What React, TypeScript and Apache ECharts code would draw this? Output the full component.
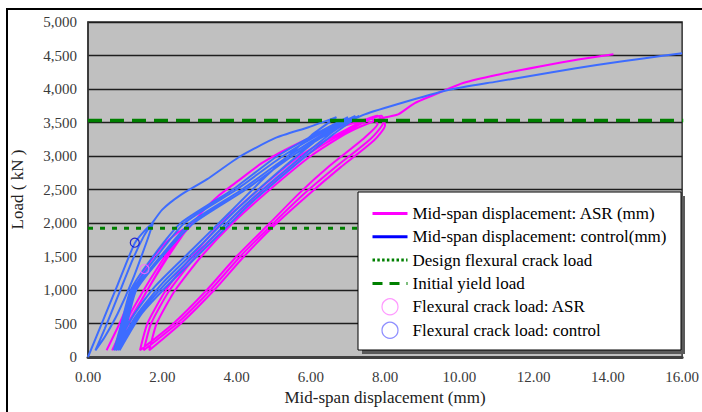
import React, { useEffect, useRef } from "react";
import * as echarts from "echarts";

// ---- data (mid-span displacement in mm, load in kN) ----
const designCrackLoad = 1920;
const initialYieldLoad = 3530;

const asrCurve: number[][] = [
  // first cycles to ~2000 kN
  [0.5, 100], [0.85, 500], [1.2, 950], [1.55, 1320], [2.0, 1650], [2.4, 1850], [2.73, 1950],
  [2.55, 1820], [2.1, 1450], [1.6, 1000], [1.1, 520], [0.65, 100],
  [0.95, 450], [1.45, 950], [1.95, 1400], [2.4, 1760], [2.7, 1940],
  [2.5, 1790], [2.05, 1420], [1.55, 950], [1.05, 480], [0.75, 100],
  [1.05, 450], [1.5, 900], [2.0, 1380], [2.45, 1760], [2.75, 1950],
  // envelope to ~3550 kN
  [3.1, 2180], [3.5, 2400], [4.07, 2640], [4.7, 2900], [5.67, 3190], [6.5, 3380], [7.2, 3500], [7.6, 3560],
  // cycles around yield
  [7.8, 3480], [7.4, 3250], [6.5, 2850], [5.7, 2450], [4.9, 2000], [4.0, 1500], [3.2, 1000], [2.3, 500], [1.4, 100],
  [1.6, 500], [2.1, 1000], [2.8, 1500], [3.6, 2000], [4.6, 2500], [5.7, 3000], [6.8, 3350], [7.8, 3600],
  [7.95, 3500], [7.6, 3250], [6.7, 2850], [5.85, 2450], [5.0, 2000], [4.1, 1500], [3.3, 1000], [2.4, 500], [1.5, 100],
  [1.7, 500], [2.2, 1000], [2.9, 1500], [3.75, 2000], [4.75, 2500], [5.85, 3000], [6.9, 3350], [7.9, 3600],
  [8.0, 3460], [7.7, 3230], [6.8, 2830], [5.95, 2430], [5.05, 1980], [4.2, 1500], [3.4, 1000], [2.5, 500], [1.65, 100],
  // final loading
  [1.85, 500], [2.35, 1000], [3.05, 1500], [3.9, 2000], [4.9, 2500], [6.0, 3000], [7.0, 3350], [7.95, 3570],
  [8.35, 3620], [8.8, 3790], [9.5, 3955], [10.1, 4090], [11.0, 4210], [12.2, 4340], [13.2, 4440], [14.15, 4520],
];

const controlCurve: number[][] = [
  // first cycle to ~2000 kN
  [0, 0], [0.4, 540], [0.8, 1080], [1.26, 1700], [1.55, 1900], [1.75, 2000],
  [1.6, 1750], [1.2, 1150], [0.8, 650], [0.45, 300], [0.2, 100],
  [0.45, 420], [0.8, 900], [1.2, 1450], [1.5, 1800], [1.72, 1990],
  // envelope
  [2.0, 2200], [2.5, 2420], [3.2, 2650], [4.07, 2985], [5.05, 3270], [5.94, 3430], [6.69, 3580],
  // cycles around yield
  [6.0, 3300], [4.8, 2700], [3.8, 2150], [2.8, 1600], [1.8, 1050], [1.2, 600], [0.7, 100],
  [0.9, 500], [1.15, 1000], [1.75, 1500], [2.5, 2000], [3.9, 2500], [5.1, 3000], [6.2, 3350], [7.0, 3580],
  [6.3, 3300], [5.1, 2750], [4.0, 2200], [3.0, 1650], [2.0, 1100], [1.3, 620], [0.75, 100],
  [0.95, 500], [1.2, 1000], [1.85, 1500], [2.6, 2000], [4.0, 2500], [5.25, 3000], [6.4, 3380], [7.2, 3600],
  [6.5, 3320], [5.3, 2780], [4.2, 2250], [3.2, 1700], [2.1, 1100], [1.4, 650], [0.8, 100],
  [1.0, 500], [1.25, 1000], [1.95, 1500], [2.75, 2000], [4.15, 2500], [5.4, 3000], [6.5, 3380], [7.3, 3600],
  [6.6, 3320], [5.4, 2780], [4.3, 2250], [3.3, 1700], [2.2, 1100], [1.45, 650], [0.85, 100],
  // final loading
  [1.05, 500], [1.3, 1000], [2.0, 1500], [2.85, 2000], [4.25, 2500], [5.5, 3000], [6.6, 3380], [7.4, 3610],
  [8.35, 3776], [9.7, 3985], [11.0, 4110], [12.5, 4250], [13.7, 4358], [15.0, 4460], [16.0, 4535],
];

const asrCrackPoint: number[][] = [[1.52, 1313]];
const controlCrackPoint: number[][] = [[1.26, 1706]];

const seriesNames = [
  "Mid-span displacement: ASR (mm)",
  "Mid-span displacement: control(mm)",
  "Design flexural crack load",
  "Initial yield load",
  "Flexural crack load: ASR",
  "Flexural crack load: control",
];

const xAxisTitle = "Mid-span displacement (mm)";
const yAxisTitle = "Load ( kN )";

const SERIF = "Liberation Serif";
const hiddenSymbol = { color: "rgba(0,0,0,0)", borderWidth: 0, opacity: 0 };

export default function App() {
  const ref = useRef<HTMLDivElement>(null);

  useEffect(() => {
    if (!ref.current) return;
    const chart = echarts.init(ref.current, undefined, { renderer: "svg" });
    chart.setOption({
      animation: false,
      backgroundColor: "#ffffff",
      textStyle: { fontFamily: SERIF },
      grid: {
        left: 88,
        right: 16,
        top: 22,
        bottom: 55,
        show: true,
        backgroundColor: "#C0C0C0",
        borderColor: "#333333",
        borderWidth: 1.5,
      },
      xAxis: {
        type: "value",
        min: 0,
        max: 16,
        interval: 2,
        name: xAxisTitle,
        nameLocation: "middle",
        nameGap: 32,
        nameTextStyle: { fontFamily: SERIF, fontSize: 17, color: "#222" },
        axisLine: { show: true, lineStyle: { color: "#404040", width: 3 } },
        axisTick: { show: false },
        splitLine: { show: false },
        axisLabel: {
          formatter: (v: number) => v.toFixed(2),
          fontFamily: SERIF,
          fontSize: 15,
          color: "#3a3a3a",
          margin: 12,
        },
      },
      yAxis: {
        type: "value",
        min: 0,
        max: 5000,
        interval: 500,
        name: yAxisTitle,
        nameLocation: "middle",
        nameGap: 62,
        nameTextStyle: { fontFamily: SERIF, fontSize: 17, color: "#222" },
        axisLine: { show: true, lineStyle: { color: "#333", width: 1.5 } },
        axisTick: { show: false },
        splitLine: { show: true, lineStyle: { color: "#1e1e1e", width: 1.3 } },
        axisLabel: {
          formatter: (v: number) => v.toLocaleString("en-US"),
          fontFamily: SERIF,
          fontSize: 15,
          color: "#3a3a3a",
          margin: 11,
        },
      },
      legend: {
        orient: "vertical",
        left: 358,
        top: 192,
        padding: [13, 10, 13, 13],
        itemWidth: 35,
        itemHeight: 16,
        itemGap: 6.3,
        itemTextGap: 18,
        z: 10,
        textStyle: { fontFamily: SERIF, fontSize: 17, color: "#000", lineHeight: 17 },
        data: [
          { name: seriesNames[0], itemStyle: hiddenSymbol, lineStyle: { color: "#FF00FF", width: 3 } },
          { name: seriesNames[1], itemStyle: hiddenSymbol, lineStyle: { color: "#0000FF", width: 3 } },
          { name: seriesNames[2], itemStyle: hiddenSymbol, lineStyle: { color: "#008000", width: 3, type: [2.5, 2.3] } },
          { name: seriesNames[3], itemStyle: hiddenSymbol, lineStyle: { color: "#008000", width: 3, type: [10, 7] } },
          {
            name: seriesNames[4],
            icon: "circle",
            itemStyle: { color: "rgba(0,0,0,0)", borderColor: "#FF80FF", borderWidth: 1.2 },
          },
          {
            name: seriesNames[5],
            icon: "circle",
            itemStyle: { color: "rgba(0,0,0,0)", borderColor: "#7070FF", borderWidth: 1.2 },
          },
        ],
      },
      graphic: [
        {
          type: "rect",
          z: 0,
          silent: true,
          shape: { x: 7, y: 9, width: 720, height: 430 },
          style: { fill: "none", stroke: "#000", lineWidth: 2 },
        },
        {
          type: "rect",
          z: 8,
          silent: true,
          shape: { x: 362, y: 196, width: 323, height: 158 },
          style: { fill: "#5a5a5a" },
        },
        {
          type: "rect",
          z: 9,
          silent: true,
          shape: { x: 358, y: 192, width: 323, height: 158 },
          style: { fill: "#ffffff", stroke: "#000", lineWidth: 1 },
        },
      ],
      series: [
        {
          name: seriesNames[0],
          type: "line",
          data: asrCurve,
          symbol: "none",
          smooth: 0.2,
          color: "#FF00FF",
          lineStyle: { color: "#FF00FF", width: 2 },
          z: 3,
        },
        {
          name: seriesNames[1],
          type: "line",
          data: controlCurve,
          symbol: "none",
          smooth: 0.2,
          color: "#3D6CFF",
          lineStyle: { color: "#3D6CFF", width: 2 },
          z: 3,
        },
        {
          name: seriesNames[2],
          type: "line",
          data: [[0, designCrackLoad], [16.1, designCrackLoad]],
          symbol: "none",
          clip: false,
          color: "#008000",
          lineStyle: { color: "#008000", width: 3, type: [5, 7] },
          z: 4,
        },
        {
          name: seriesNames[3],
          type: "line",
          data: [[0, initialYieldLoad], [16.03, initialYieldLoad]],
          symbol: "none",
          clip: false,
          color: "#008000",
          lineStyle: { color: "#008000", width: 3.5, type: [14, 8] },
          z: 4,
        },
        {
          name: seriesNames[4],
          type: "scatter",
          data: asrCrackPoint,
          symbol: "circle",
          symbolSize: 9,
          itemStyle: { color: "rgba(0,0,0,0)", borderColor: "#FF66FF", borderWidth: 1.2 },
          z: 5,
        },
        {
          name: seriesNames[5],
          type: "scatter",
          data: controlCrackPoint,
          symbol: "circle",
          symbolSize: 9,
          itemStyle: { color: "rgba(0,0,0,0)", borderColor: "#0000CC", borderWidth: 1.2 },
          z: 5,
        },
      ],
    });
    return () => chart.dispose();
  }, []);

  return (
    <div
      ref={ref}
      style={{ position: "fixed", left: 0, top: 0, width: 702, height: 412 }}
    />
  );
}
